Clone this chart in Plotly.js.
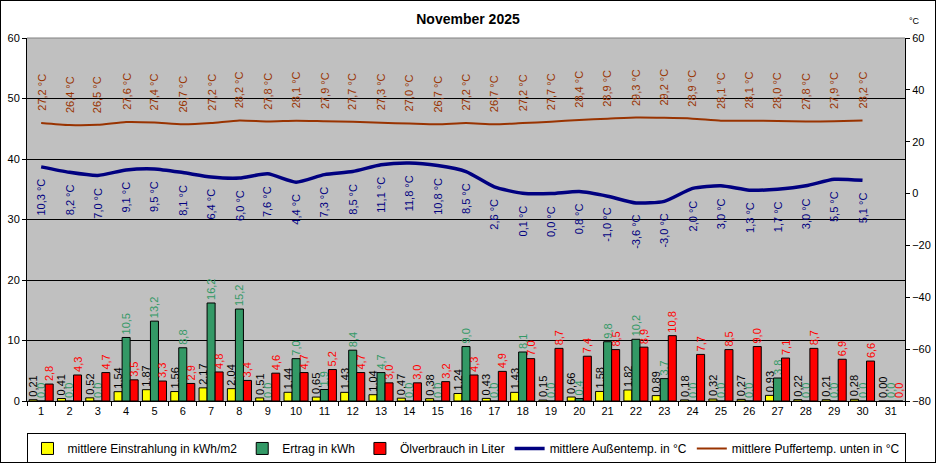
<!DOCTYPE html>
<html>
<head>
<meta charset="utf-8">
<script src="https://cdn.plot.ly/plotly-3.0.1.min.js"></script>
<style>
  body { margin: 0; background: #fff; }
  #chart { width: 934px; height: 461px; border: 1px solid #000; }
</style>
</head>
<body>
<div id="chart"></div>
<script>
const days = Array.from({ length: 31 }, (_, i) => String(i + 1))

const einstrahlung = [0.21, 0.41, 0.52, 1.54, 1.87, 1.56, 2.17, 2.04, 0.51, 1.44, 0.65, 1.43, 1.04, 0.47, 0.38, 1.24,
  0.43, 1.43, 0.15, 0.66, 1.58, 1.82, 0.89, 0.18, 0.32, 0.27, 0.93, 0.22, 0.21, 0.28, 0.00]
const ertrag = [0.0, 0.0, 0.0, 10.5, 13.2, 8.8, 16.2, 15.2, 0.0, 7.0, 1.9, 8.4, 4.7, 0.0, 0.0, 9.0,
  0.0, 8.1, 0.0, 0.4, 9.8, 10.2, 3.7, 0.0, 0.0, 0.0, 3.8, 0.0, 0.0, 0.0, 0.0]
const oel = [2.8, 4.3, 4.7, 3.5, 3.3, 2.9, 4.8, 3.4, 4.6, 4.7, 5.2, 4.7, 3.0, 3.0, 3.2, 4.3,
  4.9, 7.0, 8.7, 7.4, 8.5, 8.9, 10.8, 7.7, 8.5, 9.0, 7.1, 8.7, 6.9, 6.6, 0.0]
const aussen = [10.3, 8.2, 7.0, 9.1, 9.5, 8.1, 6.4, 6.0, 7.6, 4.4, 7.3, 8.5, 11.1, 11.8, 10.8, 8.5,
  2.6, 0.1, 0.0, 0.8, -1.0, -3.6, -3.0, 2.0, 3.0, 1.3, 1.7, 3.0, 5.5, 5.1]
const puffer = [27.2, 26.4, 26.5, 27.6, 27.4, 26.7, 27.2, 28.2, 27.8, 28.1, 27.9, 27.7, 27.3, 27.0, 26.7, 27.2,
  26.7, 27.2, 27.7, 28.4, 28.9, 29.3, 29.2, 28.9, 28.1, 28.1, 28.0, 27.8, 27.9, 28.2]

const font = 'Liberation Sans, Arial, sans-serif'

function barTrace(name, y, color, labelColor, fmt) {
  return {
    type: 'bar',
    name: name,
    x: days,
    y: y,
    marker: { color: color, line: { color: '#000', width: 1 } },
    texttemplate: '%{y:' + fmt + '}',
    textposition: 'outside',
    textangle: -90,
    constraintext: 'none',
    cliponaxis: false,
    textfont: { family: font, size: 11, color: labelColor },
    hoverinfo: 'skip'
  }
}

const traces = [
  barTrace('mittlere Einstrahlung in kWh/m2', einstrahlung, '#FFFF00', '#000000', '.2f'),
  barTrace('Ertrag in kWh', ertrag, '#339966', '#339966', '.1f'),
  barTrace('Ölverbrauch in Liter', oel, '#FF0000', '#FF0000', '.1f'),
  {
    type: 'scatter', mode: 'lines', name: 'mittlere Außentemp. in °C',
    x: days.slice(0, aussen.length), y: aussen, yaxis: 'y2',
    line: { color: '#000080', width: 3.5, shape: 'spline', smoothing: 0.6 }
  },
  {
    type: 'scatter', mode: 'lines', name: 'mittlere Puffertemp. unten in °C',
    x: days.slice(0, puffer.length), y: puffer, yaxis: 'y2',
    line: { color: '#993300', width: 2, shape: 'spline', smoothing: 0.6 }
  }
]

function tempLabel(v) {
  return v.toFixed(1).replace('.', ',') + ' °C'
}

// category axis: annotations are placed by category index
const annotations = []
puffer.forEach((v, i) => annotations.push({
  x: i, y: v, xref: 'x', yref: 'y2', text: tempLabel(v), showarrow: false,
  textangle: -90, yanchor: 'bottom', yshift: 10,
  font: { family: font, size: 11, color: '#993300' }
}))
aussen.forEach((v, i) => annotations.push({
  x: i, y: v, xref: 'x', yref: 'y2', text: tempLabel(v), showarrow: false,
  textangle: -90, yanchor: 'top', yshift: -10,
  font: { family: font, size: 11, color: '#000080' }
}))
annotations.push({
  x: 1.002, y: 1.047, xref: 'paper', yref: 'paper', text: '°C', showarrow: false,
  xanchor: 'left', yanchor: 'middle', font: { family: font, size: 9, color: '#000' }
})

const layout = {
  width: 934,
  height: 461,
  margin: { l: 26, r: 30, t: 37, b: 61, autoexpand: false },
  paper_bgcolor: '#fff',
  plot_bgcolor: '#C0C0C0',
  separators: ',.',
  font: { family: font, size: 11, color: '#000' },
  title: {
    text: '<b>November 2025</b>',
    font: { family: font, size: 14, color: '#000' },
    x: 0.5, xanchor: 'center', y: 0.961, yanchor: 'middle'
  },
  barmode: 'group',
  bargap: 0.15,
  bargroupgap: 0,
  showlegend: true,
  legend: {
    orientation: 'h', x: 0.5, xanchor: 'center',
    yref: 'container', y: 0.063, yanchor: 'top',
    bordercolor: '#000', borderwidth: 1, bgcolor: '#fff',
    font: { family: font, size: 12, color: '#000' },
    itemwidth: 30,
    traceorder: 'normal'
  },
  xaxis: {
    type: 'category',
    range: [-0.5, 30.5],
    tickson: 'boundaries',
    ticks: 'outside', ticklen: 4, tickcolor: '#000',
    showline: true, linecolor: '#000', linewidth: 1,
    showgrid: false, fixedrange: true, automargin: false,
    tickfont: { size: 11 }
  },
  yaxis: {
    range: [0, 60], dtick: 10,
    ticks: 'outside', ticklen: 4, tickcolor: '#000',
    showline: true, linecolor: '#000', linewidth: 1,
    showgrid: true, gridcolor: '#000', gridwidth: 1,
    zeroline: false, fixedrange: true, automargin: false
  },
  yaxis2: {
    overlaying: 'y', side: 'right',
    range: [-80, 60], dtick: 20,
    ticks: 'outside', ticklen: 4, tickcolor: '#000',
    showline: true, linecolor: '#000', linewidth: 1,
    showgrid: false, zeroline: false, fixedrange: true, automargin: false
  },
  shapes: [{
    type: 'line', xref: 'paper', yref: 'paper', x0: 0, x1: 1, y0: 1, y1: 1,
    line: { color: '#808080', width: 1 }
  }],
  annotations: annotations
}

Plotly.newPlot('chart', traces, layout, { displayModeBar: false, staticPlot: true })
</script>
</body>
</html>
